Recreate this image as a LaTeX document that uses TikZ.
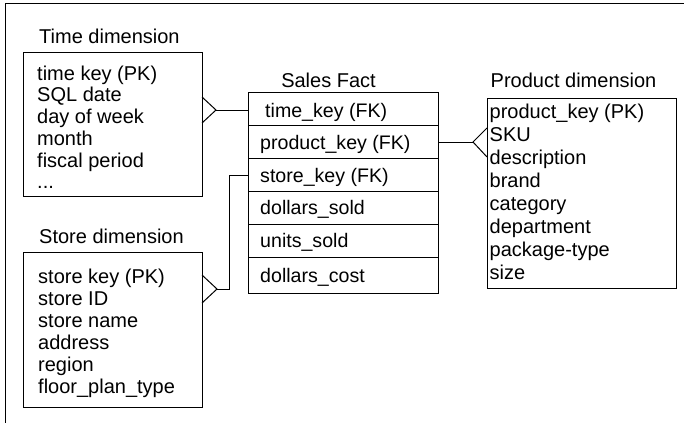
\documentclass[tikz,border=0pt]{standalone}
\usepackage{fontspec}
\setmainfont{Liberation Sans}
\begin{document}
\begin{tikzpicture}[x=1pt,y=-1pt,
  box/.style={draw, line width=1pt, anchor=north west, inner sep=0pt},
  title/.style={anchor=base west, inner sep=0pt, font=\fontsize{20}{24}\selectfont},
  attr/.style={anchor=north west, inner sep=0pt, align=left},
  rowtxt/.style={anchor=base west, inner sep=0pt, font=\fontsize{19.6}{24}\selectfont},
  conn/.style={line width=1pt}]
\useasboundingbox (0,0) rectangle (684,423);
% page frame (top and left only)
\draw[line width=1pt] (684,3) -- (5,3) -- (5,423);

% Time dimension
\node[title] (timetitle) at (39,43) {Time dimension};
\node[box, minimum width=179pt, minimum height=144pt] (time) at (23,52) {};
\node[attr, font=\fontsize{20}{21.7}\selectfont] (timeattr) at (37,65)
  {\rule{0pt}{15pt}time key (PK)\\SQL date\\day of week\\month\\fiscal period\\...};

% Store dimension
\node[title] (storetitle) at (39,243) {Store dimension};
\node[box, minimum width=179pt, minimum height=155pt] (store) at (23,252) {};
\node[attr, font=\fontsize{20}{22}\selectfont] (storeattr) at (38,268)
  {\rule{0pt}{15pt}store key (PK)\\store ID\\store name\\address\\region\\floor\_plan\_type};

% Product dimension
\node[title] (prodtitle) at (490.5,87) {Product dimension};
\node[box, minimum width=189pt, minimum height=190pt] (prod) at (487,98) {};
\node[attr, font=\fontsize{20}{23}\selectfont] (prodattr) at (489.5,103)
  {\rule{0pt}{15pt}product\_key (PK)\\SKU\\description\\brand\\category\\department\\package-type\\size};

% Sales fact
\node[title, anchor=base] (salestitle) at (328.5,87) {Sales Fact};
\node[box, minimum width=190pt, minimum height=33pt] (r1) at (248,92) {};
\node[box, minimum width=190pt, minimum height=33pt] (r2) at (248,125) {};
\node[box, minimum width=190pt, minimum height=33pt] (r3) at (248,158) {};
\node[box, minimum width=190pt, minimum height=33pt] (r4) at (248,191) {};
\node[box, minimum width=190pt, minimum height=33pt] (r5) at (248,224) {};
\node[box, minimum width=190pt, minimum height=36pt] (r6) at (248,257) {};
\node[rowtxt] (r1t) at (265,117) {time\_key (FK)};
\node[rowtxt] (r2t) at (260,149) {product\_key (FK)};
\node[rowtxt] (r3t) at (260,182) {store\_key (FK)};
\node[rowtxt] (r4t) at (260,214) {dollars\_sold};
\node[rowtxt] (r5t) at (260,247) {units\_sold};
\node[rowtxt] (r6t) at (260,282) {dollars\_cost};

% crow's foot points
\coordinate (tv) at (216,110);
\coordinate (ta) at (202,97);
\coordinate (tb) at (202,123);
\coordinate (sv) at (217,289);
\coordinate (sa) at (202,275);
\coordinate (sb) at (202,303);
\coordinate (sk) at (229,289);
\coordinate (pv) at (473,142);
\coordinate (pa) at (487,128);
\coordinate (pb) at (487,157);

% connectors
\draw[conn] (r1.west |- tv) -- (tv);
\draw[conn] (ta) -- (tv) -- (tb);
\draw[conn] (r3.west) -| (sk) -- (sv);
\draw[conn] (sa) -- (sv) -- (sb);
\draw[conn] (r2.east |- pv) -- (pv);
\draw[conn] (pa) -- (pv) -- (pb);
\end{tikzpicture}
\end{document}
